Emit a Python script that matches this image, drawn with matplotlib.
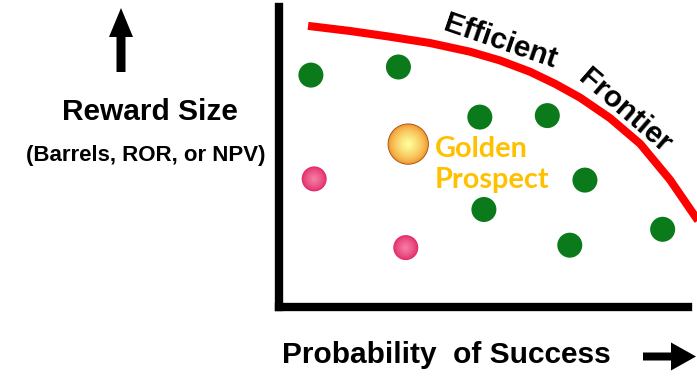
import numpy as np
import matplotlib
matplotlib.use("Agg")
import matplotlib.pyplot as plt
from matplotlib.colors import to_rgb
from matplotlib.patches import Polygon

# Prospect portfolio: probability of success (%) vs. relative reward size (%)
green_prob = [7.8, 29.2, 49.1, 65.6, 74.8, 50.1, 71.1, 93.8]
green_reward = [77.3, 80.0, 63.3, 63.8, 42.3, 32.5, 20.6, 25.9]
pink_prob = [8.6, 31.0]
pink_reward = [42.7, 19.8]
golden_prob = [31.6]
golden_reward = [54.3]
frontier_prob = [7.1, 17.4, 27.1, 36.9, 46.7, 54.0, 61.4, 67.5, 73.6, 80.9,
                 88.3, 95.6, 102.2, 102.9]
frontier_reward = [93.7, 92.0, 90.1, 88.0, 85.1, 82.2, 78.4, 74.4, 69.8, 63.0,
                   54.4, 42.4, 29.3, 27.9]

W, H = 697, 376
FONT = "Liberation Sans"

fig = plt.figure(figsize=(W / 100, H / 100), dpi=100)

# overlay in pixel units for the axis captions and arrows
deco = fig.add_axes([0, 0, 1, 1])
deco.set_xlim(0, W)
deco.set_ylim(H, 0)
deco.axis("off")

ax = fig.add_axes([279 / W, (H - 307) / H, (688 - 279) / W, 300 / H])
ax.set_xlim(0, 100)
ax.set_ylim(0, 100)
ax.set_xticks([])
ax.set_yticks([])
ax.patch.set_alpha(0)
for side in ("top", "right"):
    ax.spines[side].set_visible(False)
for side in ("left", "bottom"):
    ax.spines[side].set_linewidth(6)
    ax.spines[side].set_color("black")
    ax.spines[side].set_capstyle("projecting")


def shaded(xs, ys, diam, inner, outer, edge=None, n=16):
    """Radially shaded round markers built from concentric discs."""
    ci, co = np.array(to_rgb(inner)), np.array(to_rgb(outer))
    if edge is not None:
        ax.scatter(xs, ys, s=(diam + 1.2) ** 2, color=edge, edgecolors="none",
                   zorder=4, clip_on=False)
    for k in range(n):
        f = k / (n - 1)
        d = diam * (1 - 0.93 * f)
        c = co + (ci - co) * f ** 0.7
        ax.scatter(xs, ys, s=d ** 2, color=c, edgecolors="none",
                   zorder=4.01 + k * 0.001, clip_on=False)


# efficient frontier
ax.plot(frontier_prob, frontier_reward, color="#FF0000", lw=5.8,
        solid_capstyle="butt", solid_joinstyle="round", clip_on=False, zorder=3)

# prospects
ax.scatter(green_prob, green_reward, s=18 ** 2, color="#0A7A1A",
           edgecolors="none", zorder=4, clip_on=False)
shaded(pink_prob, pink_reward, 18, "#F57DA2", "#E2286A")
shaded(golden_prob, golden_reward, 28.5, "#FFFF9A", "#F29A2E", edge="#9C4F1A")

ax.text(38.1, 52.7, "Golden", color="#FFC000", fontsize=20.8, fontweight="bold",
        family="Lato", ha="left", va="center", zorder=5)
ax.text(38.1, 42.3, "Prospect", color="#FFC000", fontsize=20.8, fontweight="bold",
        family="Lato", ha="left", va="center", zorder=5)

ax.text(54.0, 88.3, "Efficient", fontsize=21.5, fontweight="bold", family=FONT,
        rotation=-19, rotation_mode="anchor", ha="center", va="center", zorder=5)
ax.text(84.6, 65.3, "Frontier", fontsize=21.5, fontweight="bold", family=FONT,
        rotation=-41, rotation_mode="anchor", ha="center", va="center", zorder=5)

# axis captions
deco.text(150, 112, "Reward Size", fontsize=21.5, fontweight="bold", family=FONT,
          ha="center", va="center")
deco.text(146, 155, "(Barrels, ROR, or NPV)", fontsize=16, fontweight="bold",
          family=FONT, ha="center", va="center")
deco.text(446, 355, "Probability  of Success", fontsize=21.5, fontweight="bold",
          family=FONT, ha="center", va="center")

# direction arrows
up = [(116.5, 72), (125.5, 72), (125.5, 37), (133, 37), (121, 8), (109, 37), (116.5, 37)]
right = [(643, 352.5), (671, 352.5), (671, 342.5), (696, 356.5), (671, 370.5),
         (671, 360.5), (643, 360.5)]
for pts in (up, right):
    deco.add_patch(Polygon(pts, closed=True, color="black", lw=0))

fig.savefig("out.png", dpi=100)
